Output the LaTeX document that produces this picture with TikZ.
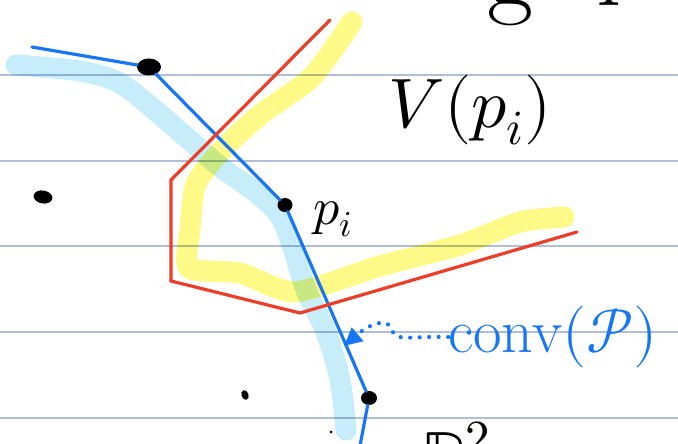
\documentclass[tikz,border=0pt]{standalone}
\usepackage{unicode-math}
\setmathfont{Latin Modern Math}
\usetikzlibrary{arrows.meta, shapes.geometric}

\definecolor{hullblue}{RGB}{22,118,246}
\definecolor{cellred}{RGB}{236,62,40}
\definecolor{hiyellow}{RGB}{255,250,135}
\definecolor{hiblue}{RGB}{200,237,250}
\definecolor{ruleline}{RGB}{176,190,218}

\begin{document}
\begin{tikzpicture}[
  x=1pt, y=-1pt,
  rule/.style={draw=ruleline, line width=1.3pt},
  marker/.style={line width=21pt, line cap=round, line join=round, blend mode=multiply},
  hull/.style={draw=hullblue, line width=3.2pt, line cap=round, line join=round},
  cell/.style={draw=cellred, line width=3.2pt, line cap=round},
  dot/.style={fill=black, ellipse, inner sep=0pt, minimum width=15pt, minimum height=13pt},
  hand/.style={inner sep=0pt},
  pointer/.style={draw=hullblue, line width=4.2pt, line cap=round, dash pattern=on 0pt off 9.5pt,
    -{Triangle[length=18pt, width=17pt]}}
]
\clip (0,0) rectangle (678,444);

% ruled paper
\foreach \y in {75,161,246,332,418}
  \draw[rule] (0,\y) -- (678,\y);

% highlighter strokes
\draw[marker, hiblue] plot[smooth, tension=0.5] coordinates
  {(16,65) (80,71) (118,82) (150,106) (185,136) (218,165) (258,194) (280,216)
   (293,248) (306,290) (326,332) (340,380) (346,430)};
\draw[marker, hiyellow] plot[smooth, tension=0.4] coordinates
  {(352,22) (312,77) (260,115) (222,150) (196,184) (190,230) (189,268)
   (240,273) (295,292) (380,266) (460,245) (520,222) (564,217)};

% points
\node[dot, minimum width=24pt, minimum height=17pt] (p1) at (149,67) {};
\node[dot, minimum width=15pt, minimum height=14pt] (pi) at (285,205) {};
\node[dot, minimum width=16pt, minimum height=14pt] (p3) at (369,398) {};
\node[dot, minimum width=19pt, minimum height=13pt, rotate=-10] (q1) at (43,197) {};
\node[dot, minimum width=7pt, minimum height=10pt, rotate=20] (q2) at (245,395) {};
\node[dot, minimum width=3pt, minimum height=3pt] (q3) at (331,432) {};

% convex hull
\coordinate (h0) at (32,47);
\coordinate (h1) at (360,446);
\draw[hull] (h0) -- (p1) -- (pi) -- (p3) -- (h1);

% Voronoi cell
\coordinate (v0) at (330,20);
\coordinate (v1) at (171,180);
\coordinate (v2) at (171,281);
\coordinate (v3) at (300,313);
\coordinate (v4) at (577,232);
\draw[cell] (v0) -- (v1) -- (v2) -- (v3) -- (v4);

% labels
\node[hand, font=\fontsize{70}{80}\selectfont] (cell) at (470,110) {$V(p_i)$};
\node[hand, anchor=base west, font=\fontsize{52}{60}\selectfont] (plbl) at (313,224) {$p_i$};
\node[hand, text=hullblue, font=\fontsize{62}{70}\selectfont] (conv) at (553,337) {conv$(\mathcal{P})$};
\node[hand, anchor=base, font=\fontsize{100}{110}\selectfont] (topg) at (510,6) {g};
\node[hand, anchor=base, font=\fontsize{100}{110}\selectfont] (topl) at (609,6) {l};
\node[hand, anchor=base west, font=\fontsize{70}{80}\selectfont] (plane) at (421,480) {$\mathbb{R}^2$};

% pointer to the hull
\coordinate (tip) at (344,346);
\draw[pointer] (conv.west) .. controls (410,336) and (395,342) .. (392,330)
  .. controls (389,318) and (372,322) .. (tip);
\end{tikzpicture}
\end{document}
